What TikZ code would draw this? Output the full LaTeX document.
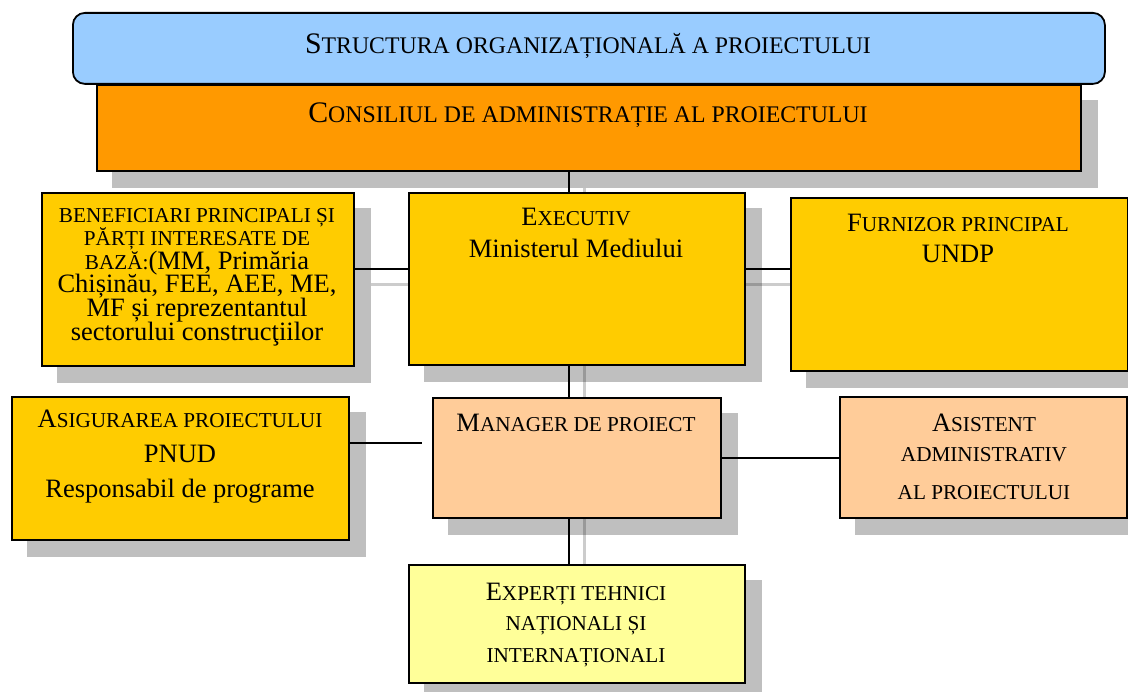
\documentclass[tikz,border=0pt]{standalone}
\usepackage{fontspec}
\setmainfont{Liberation Serif}
\usetikzlibrary{backgrounds}
% small capitals, faked at 80% of the running size
\newcommand\smk[1]{{\fontsize{21.2}{21.2}\selectfont #1}}
\newcommand\smK[1]{{\fontsize{23.8}{23.8}\selectfont #1}}
\definecolor{titleblue}{HTML}{99CCFF}
\definecolor{boardorange}{HTML}{FF9900}
\definecolor{unitgold}{HTML}{FFCC00}
\definecolor{staffpeach}{HTML}{FFCC99}
\definecolor{expertyellow}{HTML}{FFFF99}
\begin{document}
\begin{tikzpicture}[x=1pt,y=-1pt,
  box/.style={draw=black, line width=1.8pt, inner sep=0pt, anchor=north west},
  txt/.style={anchor=base, inner sep=0pt, font=\fontsize{26.5}{32}\selectfont},
  bigtxt/.style={anchor=base, inner sep=0pt, font=\fontsize{29.8}{32}\selectfont},
  link/.style={draw=black, line width=1.5pt},
  shade/.style={fill=black, fill opacity=0.25},
  shadeline/.style={draw=black, draw opacity=0.2, line width=3pt}]
\useasboundingbox (0,0) rectangle (1128,692);

% boxes
\node[box, fill=titleblue, rounded corners=12pt, minimum width=1032pt, minimum height=71pt] (title) at (72,12) {};
\node[box, fill=boardorange, minimum width=984pt, minimum height=86pt] (board) at (96,84) {};
\node[box, fill=unitgold, minimum width=312pt, minimum height=173pt] (bene) at (41,192) {};
\node[box, fill=unitgold, minimum width=336pt, minimum height=172pt] (exec) at (408,192) {};
\node[box, fill=unitgold, minimum width=337pt, minimum height=173pt] (furn) at (790,197) {};
\node[box, fill=unitgold, minimum width=337pt, minimum height=143pt] (asig) at (11,396) {};
\node[box, fill=staffpeach, minimum width=288pt, minimum height=120pt] (mgr) at (432,397) {};
\node[box, fill=staffpeach, minimum width=287pt, minimum height=121pt] (asist) at (839,396) {};
\node[box, fill=expertyellow, minimum width=336pt, minimum height=118pt] (expert) at (408,564) {};

% guide coordinates for the connector runs
\coordinate (spine) at (569,0);
\coordinate (hline) at (0,269);
\coordinate (qaend) at (422,443);

% drop shadows and shadowed connectors
\begin{scope}[on background layer]
  \foreach \n in {board,bene,exec,furn,asig,mgr,asist,expert}
    \fill[shade] ([shift={(16,16)}]\n.north west) rectangle ([shift={(16,16)}]\n.south east);
  \draw[shadeline] ([shift={(15,16)}]board.south -| spine) -- ([shift={(15,16)}]expert.north -| spine);
  \draw[shadeline] ([shift={(16,16)}]bene.east |- hline) -- ([shift={(16,16)}]furn.west |- hline);
\end{scope}

% connectors
\draw[link] (board.south -| spine) -- (exec.north -| spine);
\draw[link] (bene.east |- hline) -- (exec.west |- hline);
\draw[link] (exec.east |- hline) -- (furn.west |- hline);
\draw[link] (exec.south -| spine) -- (mgr.north -| spine);
\draw[link] (mgr.south -| spine) -- (expert.north -| spine);
\draw[link] (asig.east |- qaend) -- (qaend);
\draw[link] (mgr.east) -- (mgr.east -| asist.west);

% texts
\node[bigtxt] (title-t) at (588,54) {S\smK{TRUCTURA ORGANIZAȚIONALĂ A PROIECTULUI}};
\node[bigtxt] (board-t) at (588,123) {C\smK{ONSILIUL DE ADMINISTRAȚIE AL PROIECTULUI}};

\node[txt] (bene-1) at (197,222.5) {\smk{BENEFICIARI PRINCIPALI ȘI}};
\node[txt] (bene-2) at (197,246) {\smk{PĂRȚI INTERESATE DE}};
\node[txt] (bene-3) at (197,270) {\smk{BAZĂ:}(MM, Primăria};
\node[txt] (bene-4) at (197,293) {Chișinău, FEE, AEE, ME,};
\node[txt] (bene-5) at (197,317) {MF și reprezentantul};
\node[txt] (bene-6) at (197,341) {sectorului construcţiilor};

\node[txt] (exec-1) at (576,226) {E\smk{XECUTIV}};
\node[txt] (exec-2) at (576,258) {Ministerul Mediului};

\node[txt] (furn-1) at (958,232) {F\smk{URNIZOR PRINCIPAL}};
\node[txt] (furn-2) at (958,263) {UNDP};

\node[txt] (asig-1) at (180,428) {A\smk{SIGURAREA PROIECTULUI}};
\node[txt] (asig-2) at (180,463) {PNUD};
\node[txt] (asig-3) at (180,498) {Responsabil de programe};

\node[txt] (mgr-1) at (576,432) {M\smk{ANAGER DE PROIECT}};

\node[txt] (asist-1) at (984,432) {A\smk{SISTENT}};
\node[txt] (asist-2) at (984,462) {\smk{ADMINISTRATIV}};
\node[txt] (asist-3) at (984,500) {\smk{AL PROIECTULUI}};

\node[txt] (expert-1) at (576,600) {E\smk{XPERȚI TEHNICI}};
\node[txt] (expert-2) at (576,630) {\smk{NAȚIONALI ȘI}};
\node[txt] (expert-3) at (576,662) {\smk{INTERNAȚIONALI}};
\end{tikzpicture}
\end{document}
